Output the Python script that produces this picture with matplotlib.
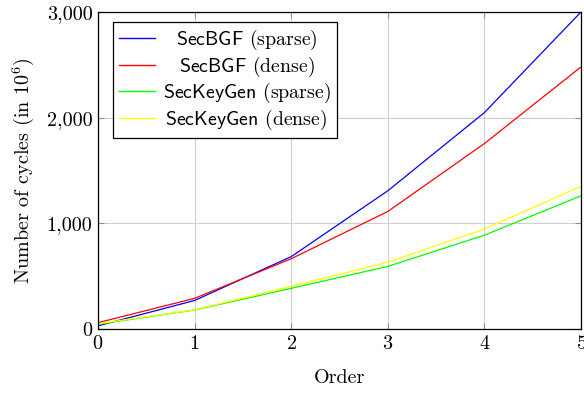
import matplotlib
matplotlib.use("Agg")
import matplotlib.pyplot as plt
from matplotlib.ticker import FuncFormatter
from matplotlib.transforms import Affine2D

orders = [0, 1, 2, 3, 4, 5]
secbgf_sparse = [30, 270, 685, 1308, 2048, 3000]
secbgf_dense = [60, 290, 665, 1112, 1755, 2480]
seckeygen_sparse = [45, 180, 385, 592, 888, 1260]
seckeygen_dense = [50, 182, 404, 632, 946, 1350]

series = [
    (secbgf_sparse, "blue", r"$\mathsf{SecBGF}$ (sparse)"),
    (secbgf_dense, "red", r"$\mathsf{SecBGF}$ (dense)"),
    (seckeygen_sparse, "#00ff00", r"$\mathsf{SecKeyGen}$ (sparse)"),
    (seckeygen_dense, "#ffff00", r"$\mathsf{SecKeyGen}$ (dense)"),
]

plt.rcParams["font.family"] = ["cmr10", "DejaVu Serif"]
plt.rcParams["mathtext.fontset"] = "cm"
plt.rcParams["axes.formatter.use_mathtext"] = True

fig = plt.figure(figsize=(5.84, 3.94), dpi=100)
ax = fig.add_axes([98 / 584, (394 - 329) / 394, (581 - 98) / 584, (329 - 12) / 394])

for vals, col, lab in series:
    ax.plot(orders, vals, color=col, lw=0.9, label=lab)

ax.set_xlim(0, 5)
ax.set_ylim(0, 3000)
ax.set_xticks(orders)
ax.set_yticks([0, 1000, 2000, 3000])
ax.yaxis.set_major_formatter(FuncFormatter(lambda v, p: f"{int(v):,}"))
ax.grid(True, color="#cfcfcf", lw=0.8)
ax.set_axisbelow(True)
ax.tick_params(direction="in", top=True, right=True, length=4, width=0.8,
               color="#909090", labelsize=14.5, pad=4)
for s in ax.spines.values():
    s.set_linewidth(0.9)
    s.set_color("black")
ax.set_xlabel("Order", fontsize=14.5, labelpad=12)
ax.set_ylabel(r"Number of cycles (in $10^6$)", fontsize=14.5, labelpad=8)

leg = ax.legend(loc="upper left", bbox_to_anchor=(0.031, 0.968), borderaxespad=0,
                fontsize=14.3, fancybox=False, edgecolor="black", framealpha=1,
                handlelength=1.8, handletextpad=0.4, labelspacing=0.12,
                borderpad=0.3)
leg.get_frame().set_linewidth(0.9)
for h in leg.get_lines():
    h.set_linewidth(1.0)

fig.canvas.draw()
r = fig.canvas.get_renderer()
texts = leg.get_texts()
widths = [t.get_window_extent(r).width for t in texts]
wmax = max(widths)
for t, w in zip(texts, widths):
    t.set_transform(t.get_transform() + Affine2D().translate((wmax - w) / 2, 0))

fig.savefig("out.png", dpi=100)
